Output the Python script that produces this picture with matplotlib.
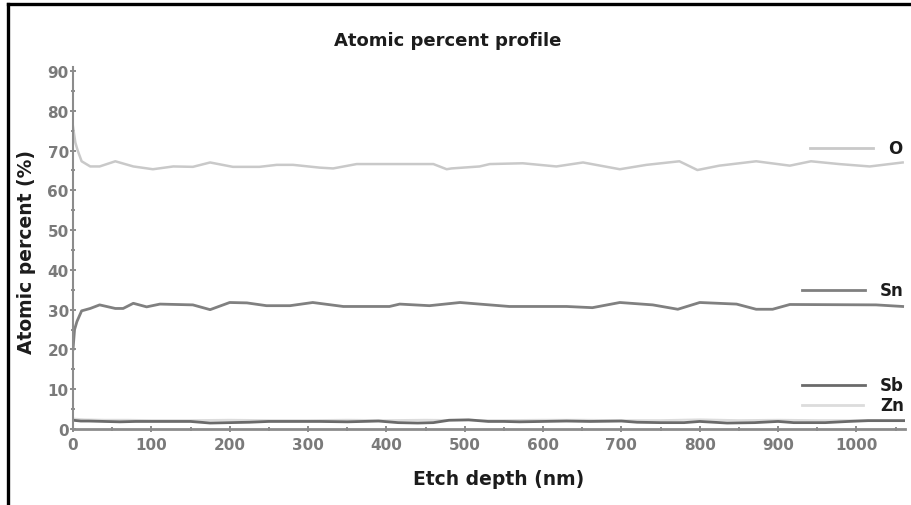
import matplotlib
matplotlib.use("Agg")
import matplotlib.pyplot as plt
from matplotlib.lines import Line2D
from matplotlib.ticker import MultipleLocator

plt.rcParams['font.family'] = ['DejaVu Sans']

# valores (profundidade em nm, percentual atomico)
o_depth = [0, 3, 6, 11, 22, 34, 54, 77, 102, 128, 153, 175, 204, 238, 260, 281, 315, 332,
           362, 395, 460, 477, 483, 519, 532, 574, 617, 651, 698, 732, 774, 797, 825, 872,
           915, 942, 978, 1017, 1059]
o_pct = [76, 72, 70, 67.3, 66, 66, 67.3, 66, 65.3, 66, 65.9, 67, 65.9, 65.9, 66.4, 66.4, 65.7,
         65.5, 66.6, 66.6, 66.6, 65.3, 65.5, 66.0, 66.6, 66.8, 66, 67, 65.3, 66.4, 67.3, 65.1,
         66.2, 67.3, 66.2, 67.3, 66.6, 66, 67]

sn_depth = [0, 2, 5, 11, 22, 34, 54, 64, 77, 94, 111, 153, 175, 200, 222, 247, 277, 306, 345,
            404, 417, 455, 494, 519, 557, 630, 663, 698, 740, 772, 800, 847, 872, 893, 915,
            1025, 1059]
sn_pct = [20, 25, 27, 29.7, 30.3, 31.2, 30.3, 30.3, 31.6, 30.7, 31.4, 31.2, 30.0, 31.8, 31.7,
          31.0, 31.0, 31.8, 30.8, 30.8, 31.4, 31.0, 31.8, 31.4, 30.8, 30.8, 30.5, 31.8, 31.2,
          30.1, 31.8, 31.4, 30.1, 30.1, 31.3, 31.2, 30.8]

sb_depth = [0, 10, 20, 40, 60, 80, 100, 120, 150, 175, 200, 225, 250, 280, 315, 350, 390, 415,
            440, 460, 480, 505, 530, 550, 570, 600, 630, 660, 700, 720, 750, 780, 800, 835,
            870, 900, 920, 960, 990, 1015, 1040, 1062]
sb_pct = [2.2, 2.0, 2.0, 1.9, 1.8, 1.9, 1.9, 1.9, 1.9, 1.5, 1.6, 1.7, 1.9, 1.9, 1.9, 1.8, 2.0,
          1.6, 1.5, 1.6, 2.2, 2.3, 1.9, 1.9, 1.8, 1.9, 2.0, 1.9, 2.0, 1.7, 1.6, 1.6, 1.9, 1.5,
          1.6, 1.9, 1.6, 1.6, 1.9, 2.1, 2.1, 2.1]

zn_depth = [0, 15, 40, 70, 100, 150, 200, 250, 300, 350, 400, 450, 500, 550, 600, 650, 700,
            750, 800, 850, 900, 950, 1000, 1062]
zn_pct = [2.6, 2.4, 2.3, 2.3, 2.2, 2.2, 2.3, 2.2, 2.2, 2.3, 2.2, 2.3, 2.2, 2.2, 2.3, 2.3, 2.2,
          2.2, 2.4, 2.2, 2.3, 2.2, 2.2, 2.2]

W, H = 911, 506
fig = plt.figure(figsize=(W / 100, H / 100), dpi=100)

# eixo em pixels: esquerda 73, direita 905, base 430, topo 68
ax = fig.add_axes([73 / W, 1 - 430 / H, (905 - 73) / W, (430 - 68) / H])

cores = {'O': '#c9c9c9', 'Sn': '#808080', 'Sb': '#6a6a6a', 'Zn': '#dcdcdc'}
ax.plot(o_depth, o_pct, color=cores['O'], lw=1.8)
ax.plot(sn_depth, sn_pct, color=cores['Sn'], lw=2.0)
ax.plot(zn_depth, zn_pct, color=cores['Zn'], lw=1.5)
ax.plot(sb_depth, sb_pct, color=cores['Sb'], lw=2.0)

ax.set_xlim(0, 1062)
ax.set_ylim(0, 91)
ax.xaxis.set_major_locator(MultipleLocator(100))
ax.xaxis.set_minor_locator(MultipleLocator(50))
ax.yaxis.set_major_locator(MultipleLocator(10))
ax.yaxis.set_minor_locator(MultipleLocator(5))

for lado in ['top', 'right']:
    ax.spines[lado].set_visible(False)
ax.spines['left'].set_color('#8c8c8c')
ax.spines['left'].set_linewidth(1.5)
ax.spines['bottom'].set_color('#8c8c8c')
ax.spines['bottom'].set_linewidth(2.0)

ax.tick_params(which='both', direction='inout', color='#7a7a7a', width=1.2)
ax.tick_params(which='major', length=4)
ax.tick_params(which='minor', length=3)
ax.tick_params(axis='x', pad=4, labelsize=11, labelcolor='#7a7a7a')
ax.tick_params(axis='y', pad=1, labelsize=11, labelcolor='#7a7a7a')
for lab in ax.get_xticklabels() + ax.get_yticklabels():
    lab.set_fontweight('bold')

# texto escuro, um pouco maior para compensar o espacamento entre letras do original
ax.set_xlabel('Etch depth (nm)', fontsize=13.5, fontweight='bold', color='#1c1c1c')
ax.set_ylabel('Atomic percent (%)', fontsize=13.5, fontweight='bold', color='#1c1c1c')
ax.xaxis.set_label_coords((499 - 73) / 832, (430 - 480) / 362)
ax.yaxis.set_label_coords((27 - 73) / 832, (430 - 252) / 362)
ax.xaxis.label.set_va('center')
ax.yaxis.label.set_va('center')

fig.text(448 / W, 1 - 41 / H, 'Atomic percent profile', ha='center', va='center',
         fontsize=13, fontweight='bold', color='#1c1c1c')

# legenda a direita
legenda = [('O', 810, 873, 149, 888), ('Sn', 802, 865, 291, 880),
           ('Sb', 802, 865, 386, 880), ('Zn', 802, 863, 406, 880)]
for nome, x0, x1, yy, xt in legenda:
    fig.add_artist(Line2D([x0 / W, x1 / W], [1 - yy / H, 1 - yy / H],
                          transform=fig.transFigure, color=cores[nome], lw=2.0))
    fig.text(xt / W, 1 - yy / H, nome, ha='left', va='center', fontsize=12,
             fontweight='bold', color='#1c1c1c')

# moldura preta (topo e esquerda)
fig.add_artist(Line2D([8 / W, 1], [1 - 5 / H, 1 - 5 / H], transform=fig.transFigure,
                      color='black', lw=2.4))
fig.add_artist(Line2D([8 / W, 8 / W], [0, 1 - 5 / H], transform=fig.transFigure,
                      color='black', lw=2.4))

fig.savefig('out.png', dpi=100)
